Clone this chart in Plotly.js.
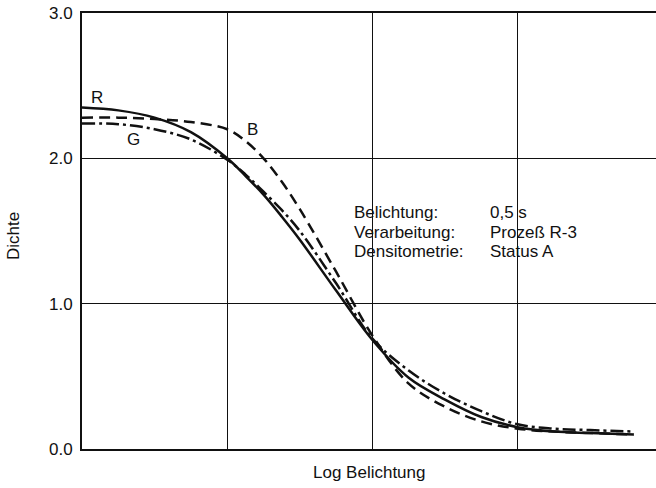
<!DOCTYPE html>
<html><head><meta charset="utf-8">
<script src="https://cdn.plot.ly/plotly-3.0.1.min.js"></script>
<style>body{margin:0;background:#fff}#c{width:656px;height:488px}</style>
</head><body><div id="c"></div>
<script>
const logE  = [0, 0.25, 0.5, 0.75, 1.0, 1.125, 1.25, 1.375, 1.5, 1.75, 2.0, 2.25, 2.5, 2.75, 3.0, 3.25, 3.5, 3.8];
const densR = [2.35, 2.33, 2.28, 2.18, 2.00, 1.88, 1.75, 1.60, 1.44, 1.09, 0.75, 0.49, 0.34, 0.22, 0.15, 0.12, 0.11, 0.10];
const densG = [2.24, 2.235, 2.20, 2.13, 1.99, 1.89, 1.77, 1.645, 1.50, 1.14, 0.76, 0.54, 0.38, 0.26, 0.17, 0.14, 0.13, 0.12];
const densB = [2.28, 2.28, 2.27, 2.25, 2.20, 2.12, 2.00, 1.84, 1.65, 1.22, 0.78, 0.45, 0.29, 0.19, 0.14, 0.12, 0.11, 0.10];
const curveLabels = [{t:'R', x:0.1, y:2.42}, {t:'G', x:0.355, y:2.13}, {t:'B', x:1.175, y:2.20}];
const infoKeys = ['Belichtung:', 'Verarbeitung:', 'Densitometrie:'];
const infoVals = ['0,5 s', 'Prozeß R-3', 'Status A'];
const infoY = [1.624, 1.487, 1.356];
const yTicks = [0, 1, 2, 3];
const yTickText = ['0.0', '1.0', '2.0', '3.0'];

const font = {family: 'Liberation Sans, Arial, sans-serif', size: 17, color: '#111'};
const mk = (y, dash) => ({x: logE, y: y, mode: 'lines', line: {color: '#111', width: 2.5, dash: dash, shape: 'spline', smoothing: 1}, hoverinfo: 'skip'});
const traces = [mk(densB, '11px,6px'), mk(densG, '13px,4px,3px,4px'), mk(densR, 'solid')];

const ann = [];
curveLabels.forEach(c => ann.push({x: c.x, y: c.y, text: c.t, showarrow: false, font: font}));
infoKeys.forEach((k, i) => {
  ann.push({x: 1.856, y: infoY[i], text: k, showarrow: false, xanchor: 'left', font: font});
  ann.push({x: 2.793, y: infoY[i], text: infoVals[i], showarrow: false, xanchor: 'left', font: font});
});
ann.push({xref: 'paper', yref: 'paper', x: -0.118, y: 0.489, xanchor: 'center', yanchor: 'middle', text: 'Dichte', textangle: -90, showarrow: false, font: font});
ann.push({xref: 'paper', yref: 'paper', x: 0.5, y: 0, yanchor: 'middle', yshift: -23, text: 'Log Belichtung', showarrow: false, font: font});

const layout = {
  width: 656, height: 488,
  margin: {l: 82, r: 0, t: 13, b: 39},
  paper_bgcolor: '#fff', plot_bgcolor: '#fff',
  showlegend: false,
  font: font,
  xaxis: {range: [0, 3.953], tickvals: [1, 2, 3], showticklabels: false, showgrid: true, gridcolor: '#111', gridwidth: 1.3,
          showline: true, linecolor: '#111', linewidth: 2, mirror: true, zeroline: false, ticks: ''},
  yaxis: {range: [0, 3], tickvals: yTicks, ticktext: yTickText, showgrid: true, gridcolor: '#111', gridwidth: 1.3,
          showline: true, linecolor: '#111', linewidth: 2, zeroline: false, ticks: '', tickfont: font, ticklabelstandoff: 4},
  annotations: ann
};
Plotly.newPlot('c', traces, layout, {staticPlot: true, displayModeBar: false});
</script></body></html>
